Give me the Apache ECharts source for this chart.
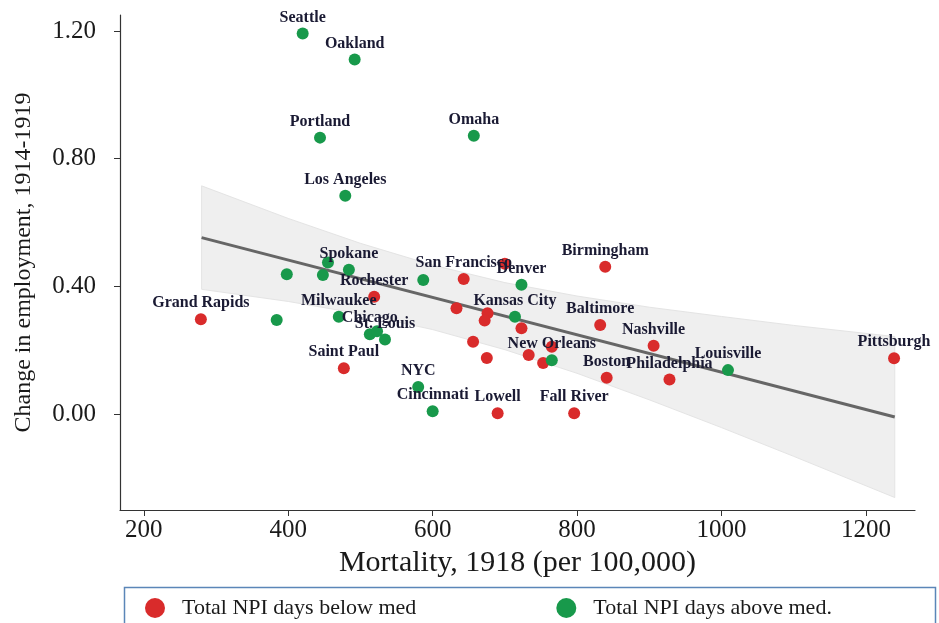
<!DOCTYPE html>
<html>
<head>
<meta charset="utf-8">
<script src="https://cdn.jsdelivr.net/npm/echarts@6/dist/echarts.min.js"></script>
<style>
html,body{margin:0;padding:0;background:#fff;}
#chart{width:939px;height:623px;}
</style>
</head>
<body>
<div id="chart"></div>
<script>
// ---- Data ----
const redCities = ["Grand Rapids","Rochester","San Francisco","","","","","","","","","","","Birmingham","Baltimore","Nashville","Boston","Philadelphia","Pittsburgh","Saint Paul","Lowell","Fall River"];
const redX = [279, 519, 643, 700, 633, 676, 672, 723, 656, 675, 733, 753, 765, 839, 832, 906, 841, 928, 1239, 477, 690, 796];
const redY = [0.297, 0.368, 0.423, 0.471, 0.332, 0.316, 0.293, 0.269, 0.227, 0.176, 0.185, 0.160, 0.211, 0.462, 0.279, 0.214, 0.114, 0.109, 0.175, 0.144, 0.003, 0.003];

const greenCities = ["Seattle","Oakland","Portland","Omaha","Los Angeles","Spokane","","","","","Denver","Milwaukee","","Chicago","St. Louis","","Kansas City","New Orleans","Louisville","NYC","Cincinnati"];
const greenX = [420, 492, 444, 657, 479, 484, 455, 448, 398, 587, 723, 470, 384, 513, 534, 523, 714, 765, 1009, 580, 600];
const greenY = [1.192, 1.111, 0.866, 0.872, 0.684, 0.452, 0.475, 0.436, 0.438, 0.420, 0.405, 0.305, 0.295, 0.250, 0.234, 0.260, 0.305, 0.169, 0.138, 0.085, 0.009];

// fitted line end points and confidence band edges
const fitX = [280, 1240];
const fitY = [0.553, -0.009];
const bandX = [280, 400, 500, 600, 700, 800, 900, 1000, 1100, 1240];
const bandUpper = [0.715, 0.613, 0.535, 0.467, 0.412, 0.370, 0.335, 0.306, 0.278, 0.243];
const bandLower = [0.391, 0.353, 0.314, 0.265, 0.202, 0.128, 0.045, -0.042, -0.132, -0.261];

const xTicks = [200, 400, 600, 800, 1000, 1200];
const yTicks = [0, 0.4, 0.8, 1.2];

const redName = "Total NPI days below med";
const greenName = "Total NPI days above med.";

// ---- Chart ----
const FONT = "Liberation Serif";
const chart = echarts.init(document.getElementById('chart'));

function pts(xs, ys, names) {
  return xs.map((x, i) => ({ value: [x, ys[i]], name: names[i] }));
}

const labelStyle = {
  show: true,
  position: 'top',
  distance: 2,
  formatter: p => p.name,
  fontFamily: FONT,
  fontSize: 16,
  fontWeight: 'bold',
  color: '#1a1a33'
};

chart.setOption({
  animation: false,
  backgroundColor: '#fff',
  grid: { left: 120, right: 24, top: 15, bottom: 113, containLabel: false },
  xAxis: {
    type: 'value', min: 167, max: 1268,
    name: 'Mortality, 1918 (per 100,000)',
    nameLocation: 'middle', nameGap: 37,
    nameTextStyle: { fontFamily: FONT, fontSize: 30, color: '#1a1a1a' },
    axisLine: { show: true, onZero: false, lineStyle: { color: '#333', width: 1.2 } },
    axisTick: { show: true, inside: false, length: 6, customValues: xTicks, lineStyle: { color: '#333' } },
    axisLabel: { customValues: xTicks, margin: 8, fontFamily: FONT, fontSize: 25, color: '#1a1a1a',
      formatter: v => String(v) },
    splitLine: { show: false }
  },
  yAxis: {
    type: 'value', min: -0.3, max: 1.25,
    name: 'Change in employment, 1914-1919',
    nameLocation: 'middle', nameGap: 84, nameRotate: 90,
    nameTextStyle: { fontFamily: FONT, fontSize: 24, color: '#1a1a1a' },
    axisLine: { show: true, onZero: false, lineStyle: { color: '#333', width: 1.2 } },
    axisTick: { show: true, inside: false, length: 6, customValues: yTicks, lineStyle: { color: '#333' } },
    axisLabel: { customValues: yTicks, margin: 24, fontFamily: FONT, fontSize: 25, color: '#1a1a1a',
      formatter: v => v.toFixed(2) },
    splitLine: { show: false }
  },
  legend: {
    data: [
      { name: redName, icon: 'circle' },
      { name: greenName, icon: 'circle' }
    ],
    left: 140, top: 592,
    itemWidth: 20, itemHeight: 20, itemGap: 140,
    textStyle: { fontFamily: FONT, fontSize: 22, color: '#1a1a1a', padding: [0, 0, 0, 12] }
  },
  graphic: [{
    type: 'rect', left: 122, top: 585, silent: true,
    shape: { width: 811, height: 50 },
    style: { fill: 'none', stroke: '#5b86b8', lineWidth: 1.5 }
  }],
  series: [
    {
      type: 'custom',
      name: 'band',
      silent: true,
      z: 1,
      data: bandX.map((x, i) => [x, bandUpper[i], bandLower[i]]),
      encode: { x: 0, y: [1, 2] },
      renderItem: function (params, api) {
        if (params.dataIndex !== 0) return null;
        const up = bandX.map((x, i) => api.coord([x, bandUpper[i]]));
        const lo = bandX.map((x, i) => api.coord([x, bandLower[i]])).reverse();
        return {
          type: 'polygon',
          shape: { points: up.concat(lo) },
          style: { fill: '#efefef', stroke: '#e4e4e4', lineWidth: 1 }
        };
      }
    },
    {
      type: 'line', name: 'fit', silent: true, z: 2,
      data: fitX.map((x, i) => [x, fitY[i]]),
      symbol: 'none',
      lineStyle: { color: '#666', width: 3 }
    },
    {
      type: 'scatter', name: redName, z: 3,
      data: pts(redX, redY, redCities),
      symbol: 'circle', symbolSize: 12,
      itemStyle: { color: '#d92b2b', opacity: 1 },
      label: labelStyle
    },
    {
      type: 'scatter', name: greenName, z: 4,
      data: pts(greenX, greenY, greenCities),
      symbol: 'circle', symbolSize: 12,
      itemStyle: { color: '#18994b', opacity: 1 },
      label: labelStyle
    }
  ]
});
</script>
</body>
</html>
